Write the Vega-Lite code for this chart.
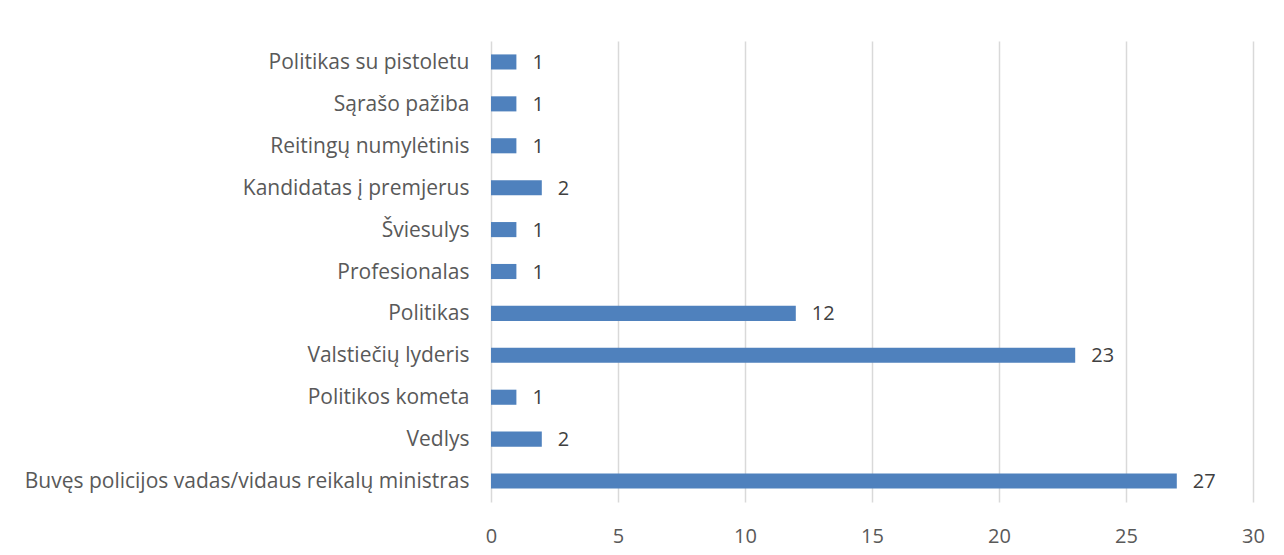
{
  "$schema": "https://vega.github.io/schema/vega-lite/v6.json",
  "width": 762,
  "height": 461,
  "autosize": {"type": "none"},
  "padding": {"left": 491, "top": 41, "right": 31, "bottom": 53},
  "background": "white",
  "config": {"view": {"stroke": null}, "font": "Open Sans"},
  "data": {
    "values": [
      {"label": "Politikas su pistoletu", "value": 1},
      {"label": "Sąrašo pažiba", "value": 1},
      {"label": "Reitingų numylėtinis", "value": 1},
      {"label": "Kandidatas į premjerus", "value": 2},
      {"label": "Šviesulys", "value": 1},
      {"label": "Profesionalas", "value": 1},
      {"label": "Politikas", "value": 12},
      {"label": "Valstiečių lyderis", "value": 23},
      {"label": "Politikos kometa", "value": 1},
      {"label": "Vedlys", "value": 2},
      {"label": "Buvęs policijos vadas/vidaus reikalų ministras", "value": 27}
    ]
  },
  "encoding": {
    "y": {
      "field": "label",
      "type": "nominal",
      "sort": null,
      "scale": {"paddingInner": 0.64, "paddingOuter": 0.32},
      "axis": {
        "title": null,
        "domain": false,
        "ticks": false,
        "labelFontSize": 21,
        "labelColor": "#595959",
        "labelPadding": 22,
        "labelLimit": 600,
        "labelOffset": 1
      }
    },
    "x": {
      "field": "value",
      "type": "quantitative",
      "scale": {"domain": [0, 30], "nice": false},
      "axis": {
        "title": null,
        "values": [0, 5, 10, 15, 20, 25, 30],
        "domain": false,
        "ticks": false,
        "grid": true,
        "gridColor": "#d9d9d9",
        "gridWidth": 1.5,
        "labelFlush": false,
        "labelFontSize": 20,
        "labelColor": "#595959",
        "labelPadding": 24
      }
    }
  },
  "layer": [
    {"mark": {"type": "bar", "color": "#4f81bd"}},
    {
      "mark": {"type": "text", "align": "left", "dx": 16, "dy": 1, "fontSize": 20, "color": "#404040", "baseline": "middle"},
      "encoding": {"text": {"field": "value", "type": "quantitative"}}
    }
  ]
}
